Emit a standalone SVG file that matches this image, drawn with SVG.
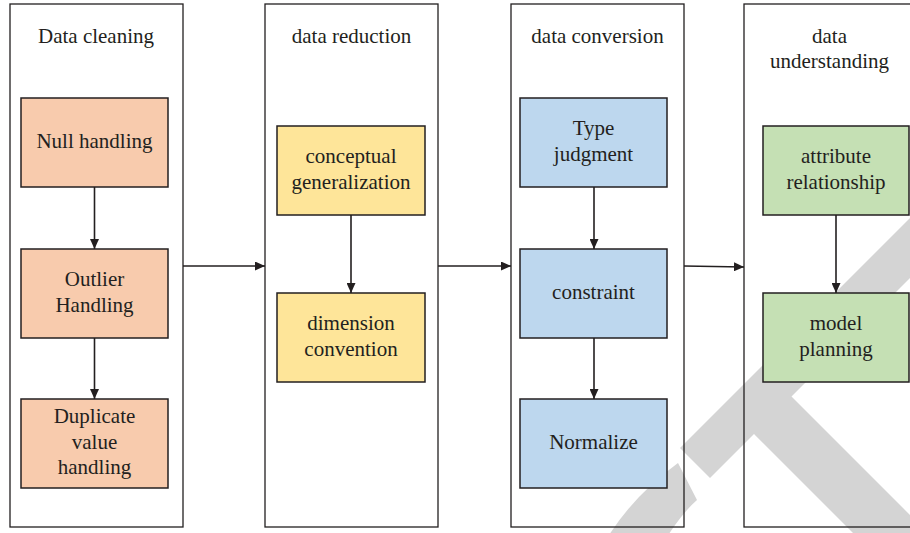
<svg xmlns="http://www.w3.org/2000/svg" width="910" height="533" viewBox="0 0 910 533" font-family="'Liberation Serif', 'DejaVu Serif', serif">
<style>
text { font-family: "Liberation Serif", "DejaVu Serif", serif; font-size: 21px; fill: #231f20; text-anchor: middle; }
.panel { fill: none; stroke: #231f20; stroke-width: 1.3; }
.box { stroke: #231f20; stroke-width: 1.5; }
.orange { fill: #f8cbad; }
.yellow { fill: #fee599; }
.blue { fill: #bdd7ee; }
.green { fill: #c5e0b4; }
.wm { fill: #d4d4d4; }
.conn line { stroke: #231f20; stroke-width: 1.6; marker-end: url(#arrow); }
</style>
<defs>
<marker id="arrow" markerUnits="userSpaceOnUse" markerWidth="11" markerHeight="9" refX="10" refY="4.5" orient="auto">
<path d="M0,0 L10,4.5 L0,9 z" fill="#231f20"/>
</marker>
</defs>
<rect width="910" height="533" fill="#ffffff"/>
<g id="watermark">
<polygon class="wm" points="680,448 940,188 970,218 791.5,396.5 940,545 865,545 754,434 710,478"/>
<path class="wm" d="M678,463 L697,500 Q680,515 662,545 L603,545 Q630,498 678,463 z"/>
</g>
<g id="panel-cleaning">
<rect class="panel" x="10" y="4" width="173" height="523"/>
<text x="96" y="43">Data cleaning</text>
</g>
<g id="panel-reduction">
<rect class="panel" x="265" y="4" width="173" height="523"/>
<text x="351.5" y="43">data reduction</text>
</g>
<g id="panel-conversion">
<rect class="panel" x="511" y="4" width="173" height="523"/>
<text x="597.5" y="43">data conversion</text>
</g>
<g id="panel-understanding">
<rect class="panel" x="744" y="4" width="172" height="523"/>
<text x="829.5" y="43">data</text>
<text x="829.5" y="68">understanding</text>
</g>
<g id="null-handling">
<rect class="box orange" x="21" y="98" width="147" height="89"/>
<text x="94.5" y="148">Null handling</text>
</g>
<g id="outlier-handling">
<rect class="box orange" x="21" y="249" width="147" height="89"/>
<text x="94.5" y="286">Outlier</text>
<text x="94.5" y="312">Handling</text>
</g>
<g id="duplicate-handling">
<rect class="box orange" x="21" y="399" width="147" height="89"/>
<text x="94.5" y="423">Duplicate</text>
<text x="94.5" y="448.5">value</text>
<text x="94.5" y="474">handling</text>
</g>
<g id="conceptual-generalization">
<rect class="box yellow" x="277" y="126" width="148" height="89"/>
<text x="351" y="163">conceptual</text>
<text x="351" y="189">generalization</text>
</g>
<g id="dimension-convention">
<rect class="box yellow" x="277" y="293" width="148" height="89"/>
<text x="351" y="330">dimension</text>
<text x="351" y="356">convention</text>
</g>
<g id="type-judgment">
<rect class="box blue" x="520" y="98" width="147" height="89"/>
<text x="593.5" y="135">Type</text>
<text x="593.5" y="161">judgment</text>
</g>
<g id="constraint">
<rect class="box blue" x="520" y="249" width="147" height="89"/>
<text x="593.5" y="299">constraint</text>
</g>
<g id="normalize">
<rect class="box blue" x="520" y="399" width="147" height="89"/>
<text x="593.5" y="449">Normalize</text>
</g>
<g id="attribute-relationship">
<rect class="box green" x="763" y="126" width="146" height="89"/>
<text x="836" y="163">attribute</text>
<text x="836" y="189">relationship</text>
</g>
<g id="model-planning">
<rect class="box green" x="763" y="293" width="146" height="89"/>
<text x="836" y="330">model</text>
<text x="836" y="356">planning</text>
</g>
<g id="connectors" class="conn">
<line x1="94.5" y1="187" x2="94.5" y2="249"/>
<line x1="94.5" y1="338" x2="94.5" y2="399"/>
<line x1="351" y1="215" x2="351" y2="293"/>
<line x1="594" y1="187" x2="594" y2="249"/>
<line x1="594" y1="338" x2="594" y2="399"/>
<line x1="836" y1="215" x2="836" y2="293"/>
<line x1="183" y1="266" x2="265" y2="266"/>
<line x1="438" y1="266" x2="511" y2="266"/>
<line x1="684" y1="266" x2="744" y2="267"/>
</g>
</svg>
